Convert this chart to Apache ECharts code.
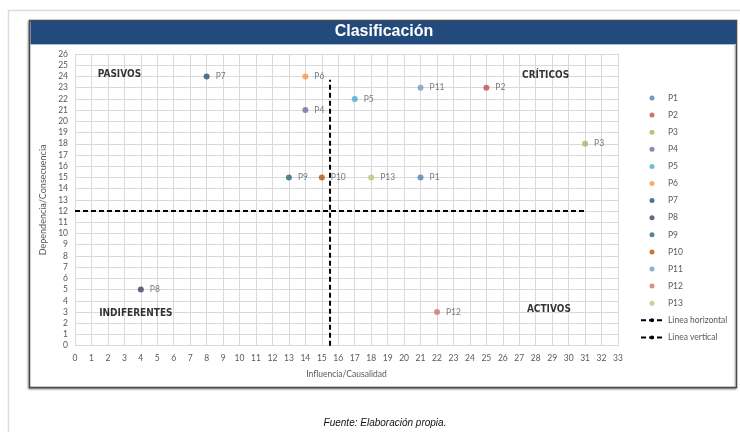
<!DOCTYPE html>
<html>
<head>
<meta charset="utf-8">
<script src="https://cdn.jsdelivr.net/npm/echarts@6/dist/echarts.min.js"></script>
<style>
  html, body { margin: 0; padding: 0; background: #ffffff; }
  #chart { width: 740px; height: 432px; }
</style>
</head>
<body>
<div id="chart"></div>
<script>
// Variables: influence (x) and dependence (y) for each problem
const pointNames   = ['P1', 'P2', 'P3', 'P4', 'P5', 'P6', 'P7', 'P8', 'P9', 'P10', 'P11', 'P12', 'P13'];
const influencia   = [21, 25, 31, 14, 17, 14, 8, 4, 13, 15, 21, 22, 18];
const dependencia  = [15, 23, 18, 21, 22, 24, 24, 5, 15, 15, 23, 3, 15];

// Threshold lines splitting the quadrants
const lineNames      = ['Linea horizontal', 'Linea vertical'];
const horizontalLine = [[0, 12], [31, 12]];
const verticalLine   = [[15.5, 0], [15.5, 23.7]];

// Quadrant names and their anchor point in data units
const quadrantNames = ['PASIVOS', 'CRÍTICOS', 'INDIFERENTES', 'ACTIVOS'];
const quadrantX     = [2.7, 28.6, 3.7, 28.8];
const quadrantY     = [24.2, 24.1, 2.9, 3.2];

// Axis ranges
const xMax = 33;
const yMax = 26;

const palette = ['#4F81BD', '#C0504D', '#9BBB59', '#8064A2', '#4BACC6', '#F79646',
                 '#2C4D75', '#4D3B62', '#276A7C', '#B65708', '#729ACA', '#CD7371', '#AFC97A'];

const labelFont = 'Lato, "Open Sans", sans-serif';
const grayText = '#595959';

const pointSeries = pointNames.map((name, i) => ({
  name: name,
  type: 'scatter',
  symbol: 'circle',
  symbolSize: 6,
  itemStyle: { color: palette[i] },
  label: {
    show: true,
    position: 'right',
    distance: 6,
    formatter: name,
    color: grayText,
    fontSize: 8.5,
    fontFamily: labelFont
  },
  data: [[influencia[i], dependencia[i]]],
  z: 5
}));

const lineSeries = [horizontalLine, verticalLine].map((pts, i) => ({
  name: lineNames[i],
  type: 'line',
  symbol: 'none',
  legendIcon: 'none',
  silent: true,
  itemStyle: { color: '#000000' },
  lineStyle: { color: '#000000', width: 2, type: [5, 3] },
  data: pts,
  z: 4
}));

const quadrantSeries = {
  name: 'quadrants',
  type: 'scatter',
  symbolSize: 0,
  silent: true,
  label: {
    show: true,
    position: 'inside',
    formatter: p => p.data[2],
    color: '#000000',
    fontSize: 10,
    fontWeight: 'bold',
    fontFamily: '"Liberation Sans Narrow", "DejaVu Sans Condensed", sans-serif'
  },
  data: quadrantNames.map((n, i) => [quadrantX[i], quadrantY[i], n]),
  z: 6
};

const chart = echarts.init(document.getElementById('chart'), null, { renderer: 'canvas' });

chart.setOption({
  animation: false,
  backgroundColor: '#ffffff',
  graphic: [
    // outer page frame
    { type: 'rect', z: -30, shape: { x: 8.5, y: 10.5, width: 760, height: 460 },
      style: { fill: '#ffffff', stroke: '#dcdcdc', lineWidth: 1.5 } },
    // chart box
    { type: 'rect', z: -20, shape: { x: 29.5, y: 20.5, width: 707, height: 367 },
      style: { fill: '#ffffff', stroke: '#4a4a4a', lineWidth: 1.5,
               shadowColor: 'rgba(0,0,0,0.35)', shadowBlur: 2, shadowOffsetX: -1, shadowOffsetY: 1 } },
    // title bar
    { type: 'rect', z: -10, shape: { x: 30.5, y: 21, width: 705.5, height: 23 },
      style: { fill: '#234A7C' } },
    { type: 'rect', z: -10, shape: { x: 30.5, y: 44, width: 705.5, height: 1 },
      style: { fill: '#A9BCD6' } },
    { type: 'text', z: 20, x: 384, y: 24, style: {
        text: 'Clasificación', fill: '#ffffff', fontSize: 16, fontWeight: 'bold', align: 'center',
        fontFamily: '"Liberation Sans Narrow", "Liberation Sans", sans-serif' } },
    // source note
    { type: 'text', z: 20, x: 385, y: 418, style: {
        text: 'Fuente: Elaboración propia.', fill: '#111111', fontSize: 10, fontStyle: 'italic',
        align: 'center', fontFamily: '"Liberation Sans", Arial, sans-serif' } }
  ],
  grid: { left: 75, right: 122, top: 54, bottom: 86.3 },
  xAxis: {
    type: 'value', min: 0, max: xMax, interval: 1,
    name: 'Influencia/Causalidad', nameLocation: 'middle', nameGap: 24,
    nameTextStyle: { color: grayText, fontSize: 8.5, fontFamily: labelFont },
    axisLine: { show: false }, axisTick: { show: false },
    axisLabel: { color: grayText, fontSize: 8.5, margin: 8, fontFamily: labelFont },
    splitLine: { show: true, lineStyle: { color: '#d9d9d9', width: 1 } }
  },
  yAxis: {
    type: 'value', min: 0, max: yMax, interval: 1,
    name: 'Dependencia/Consecuencia', nameLocation: 'middle', nameGap: 21,
    nameTextStyle: { color: grayText, fontSize: 9, fontFamily: labelFont, padding: [10, 0, 0, 0] },
    axisLine: { show: false }, axisTick: { show: false },
    axisLabel: { color: grayText, fontSize: 8.5, margin: 7, fontFamily: labelFont },
    splitLine: { show: true, lineStyle: { color: '#d9d9d9', width: 1 } }
  },
  legend: {
    orient: 'vertical', left: 635, top: 88,
    data: pointNames.concat(lineNames),
    itemWidth: 22, itemHeight: 5, itemGap: 7.1,
    textStyle: { color: grayText, fontSize: 8.5, lineHeight: 10, fontFamily: labelFont },
    selectedMode: false
  },
  series: pointSeries.concat(lineSeries, [quadrantSeries])
});
</script>
</body>
</html>
